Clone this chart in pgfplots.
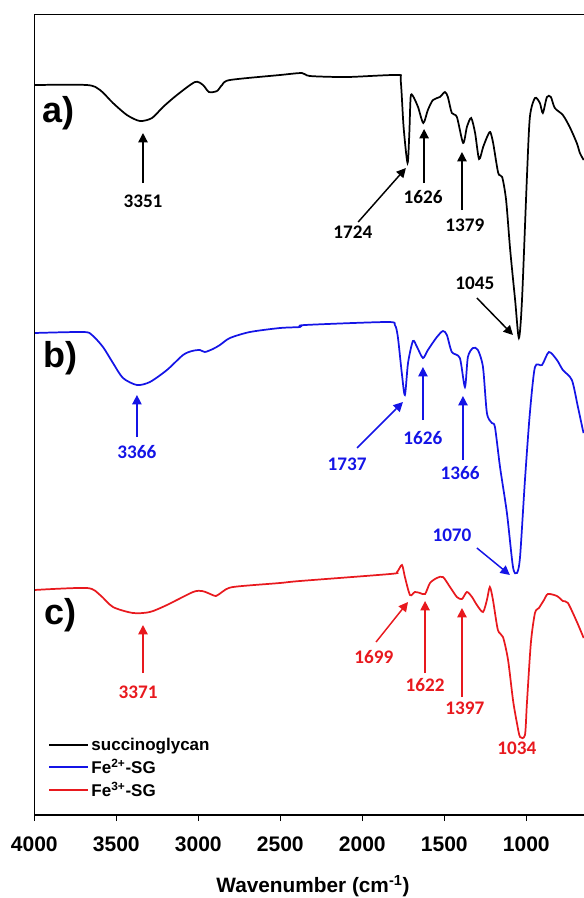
\documentclass[border=0pt]{standalone}
\usepackage{fontspec}
\setmainfont{Liberation Sans}
\newfontfamily\calib{Carlito}
\usepackage{pgfplots}
\pgfplotsset{compat=1.18}
\usetikzlibrary{arrows.meta}
\definecolor{sgblue}{HTML}{1414E6}
\definecolor{sgred}{HTML}{E8191E}
\tikzset{
  annot/.style={font=\calib\fontsize{14.4}{16}\selectfont\bfseries},
  arr/.style={-{Triangle[length=7pt,width=7pt]}, line width=1.1pt},
}

\begin{document}
\begin{tikzpicture}
\useasboundingbox (-25.7pt,-62.25pt) rectangle (412.3pt,611.25pt);
\begin{axis}[
  at={(0pt,0pt)}, anchor=south west,
  width=412.3pt, height=600.5pt, scale only axis,
  x dir=reverse, xmin=648, xmax=4000, ymin=0, ymax=800.7,
  xtick={1000,1500,...,4000}, ytick=\empty,
  xtick pos=left, tick align=outside, major tick length=4.5pt,
  tick style={black, line width=0.9pt},
  axis line style={draw=none},
  clip=false,
  xticklabel style={font=\fontsize{15.8}{18}\selectfont\bfseries, yshift=-8pt},
  /pgf/number format/.cd, 1000 sep={}, assume math mode=true, /pgfplots/.cd,
  xlabel={Wavenumber (cm\textsuperscript{-1})},
  xlabel style={font=\fontsize{15.6}{18}\selectfont\bfseries, at={(axis description cs:0.507,0)}, anchor=center, yshift=-53.25pt},
  legend style={at={(axis description cs:0.025,0.1)}, anchor=north west, draw=none, fill=none,
    font=\fontsize{12.75}{14}\selectfont\bfseries, inner sep=0pt, row sep=1.1pt},
  legend cell align=left,
  legend image code/.code={\draw[#1, line width=1.4pt] plot coordinates {(0pt,0pt) (14.5pt,0pt) (29pt,0pt)};},
]
% a) succinoglycan
\addplot[black, line width=1.3pt, smooth, tension=0.45] coordinates {
(4000,730) (3679,730) (3599,725) (3520,712) (3435,700) (3356,694) (3282,697) (3215,708)
(3130,720) (3020,733) (2971,730) (2935,723) (2886,724) (2855,730) (2807,735) (2502,740)
(2368,742) (2319,739) (2093,738) (1789,740) (1766,735) (1748,688) (1724,652) (1713,682)
(1705,718) (1691,719) (1660,708) (1628,692) (1600,705) (1569,715) (1527,718) (1496,723)
(1478,718) (1454,702) (1423,698) (1385,672) (1362,688) (1336,697) (1312,682) (1288,656)
(1263,668) (1239,678) (1220,683) (1202,672) (1171,642) (1147,638) (1123,615) (1098,565)
(1068,515) (1045,477) (1026,515) (996,638) (978,698) (947,717) (917,712) (899,702)
(874,718) (850,718) (826,707) (777,700) (735,688) (692,672) (673,662) (650,655)};
\addlegendentry{succinoglycan}
% b) Fe2+-SG
\addplot[sgblue, line width=1.3pt, smooth, tension=0.45] coordinates {
(4000,482) (3701,483) (3648,480) (3581,468) (3520,452) (3459,437) (3374,430) (3295,433)
(3191,445) (3093,460) (3038,464) (2990,465) (2960,463) (2911,466) (2868,470) (2807,477)
(2685,483) (2502,487) (2380,488) (2350,490) (1850,493) (1801,490) (1783,478) (1759,442)
(1740,420) (1721,452) (1691,474) (1666,468) (1630,457) (1600,465) (1545,478) (1508,484)
(1484,480) (1454,463) (1405,457) (1374,428) (1356,458) (1325,467) (1295,465) (1264,448)
(1240,402) (1210,392) (1191,388) (1160,348) (1118,302) (1081,248) (1057,242) (1038,258)
(1008,335) (978,402) (947,448) (904,450) (862,463) (813,455) (777,445) (722,435)
(685,408) (655,385) (650,382)};
\addlegendentry{Fe\textsuperscript{2+}-SG}
% c) Fe3+-SG
\addplot[sgred, line width=1.3pt, smooth, tension=0.45] coordinates {
(4000,225) (3679,227) (3599,220) (3520,208) (3398,202) (3295,203) (3191,210) (3032,223)
(2977,224) (2941,222) (2892,219) (2855,223) (2788,228) (2502,232) (2380,234) (1831,241)
(1788,243) (1758,250) (1740,238) (1709,220) (1679,223) (1648,222) (1617,221) (1587,232)
(1545,237) (1508,238) (1465,228) (1423,218) (1392,216) (1362,223) (1331,218) (1301,210)
(1264,203) (1240,215) (1222,228) (1203,215) (1173,185) (1142,178) (1111,155) (1081,115)
(1057,92) (1038,78) (1008,80) (996,112) (972,172) (947,202) (923,207) (892,215)
(868,221) (813,219) (777,214) (746,212) (691,193) (650,177)};
\addlegendentry{Fe\textsuperscript{3+}-SG}

% frame without right edge
\draw[line width=0.9pt] (axis description cs:1,1) -- (axis description cs:0,1)
  -- (axis description cs:0,0) -- (axis description cs:1,0);

% panel letters
\node[font=\fontsize{27}{30}\selectfont\bfseries] at (axis cs:3855,702) {a)};
\node[font=\fontsize{27}{30}\selectfont\bfseries] at (axis cs:3843,457) {b)};
\node[font=\fontsize{27}{30}\selectfont\bfseries] at (axis cs:3843,200) {c)};

% annotations a)
\draw[arr] (axis cs:3337,632) -- (axis cs:3337,682);
\node[annot] at (axis cs:3337,614) {3351};
\draw[arr] (axis cs:2025,593) -- (axis cs:1734,647);
\node[annot] at (axis cs:2057,583) {1724};
\draw[arr] (axis cs:1623,632) -- (axis cs:1623,686);
\node[annot] at (axis cs:1629,618) {1626};
\draw[arr] (axis cs:1392,605) -- (axis cs:1392,663);
\node[annot] at (axis cs:1374,590) {1379};
\draw[arr] (axis cs:1301,517) -- (axis cs:1081,480);
\node[annot] at (axis cs:1313,532) {1045};

% annotations b)
\draw[arr, sgblue] (axis cs:3374,378) -- (axis cs:3374,420);
\node[annot, sgblue] at (axis cs:3374,363) {3366};
\draw[arr, sgblue] (axis cs:2032,367) -- (axis cs:1752,413);
\node[annot, sgblue] at (axis cs:2093,351) {1737};
\draw[arr, sgblue] (axis cs:1630,395) -- (axis cs:1630,448);
\node[annot, sgblue] at (axis cs:1630,377) {1626};
\draw[arr, sgblue] (axis cs:1386,355) -- (axis cs:1386,419);
\node[annot, sgblue] at (axis cs:1404,342) {1366};
\draw[arr, sgblue] (axis cs:1301,267) -- (axis cs:1100,240);
\node[annot, sgblue] at (axis cs:1453,280) {1070};

% annotations c)
\draw[arr, sgred] (axis cs:3337,142) -- (axis cs:3337,190);
\node[annot, sgred] at (axis cs:3367,123) {3371};
\draw[arr, sgred] (axis cs:1916,173) -- (axis cs:1721,213);
\node[annot, sgred] at (axis cs:1929,158) {1699};
\draw[arr, sgred] (axis cs:1617,142) -- (axis cs:1617,214);
\node[annot, sgred] at (axis cs:1617,130) {1622};
\draw[arr, sgred] (axis cs:1392,118) -- (axis cs:1392,207);
\node[annot, sgred] at (axis cs:1374,107) {1397};
\node[annot, sgred] at (axis cs:1057,67) {1034};
\end{axis}
\end{tikzpicture}
\end{document}
